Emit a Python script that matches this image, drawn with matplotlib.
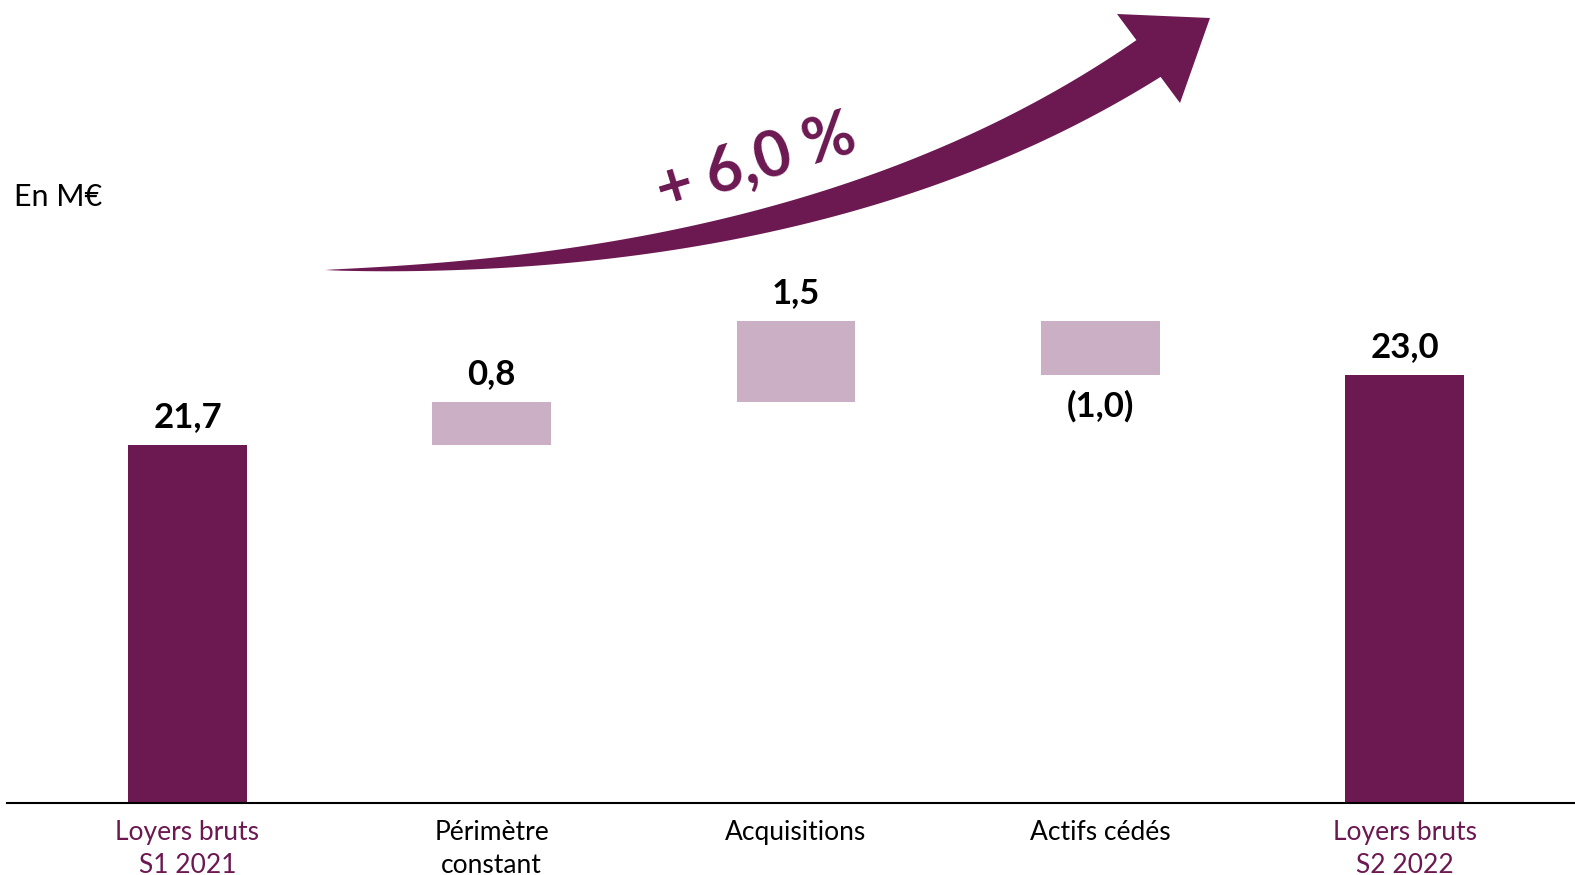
import numpy as np
import matplotlib
matplotlib.use("Agg")
import matplotlib.pyplot as plt
from matplotlib.patches import Polygon

plt.rcParams['font.family'] = ['Lato', 'DejaVu Sans']

# data
categories = ["Loyers bruts\nS1 2021", "Périmètre\nconstant", "Acquisitions",
              "Actifs cédés", "Loyers bruts\nS2 2022"]
values = [21.7, 0.8, 1.5, -1.0, 23.0]
is_total = [True, False, False, False, True]
value_labels = ["21,7", "0,8", "1,5", "(1,0)", "23,0"]
growth_label = "+ 6,0 %"
unit_label = "En M€"

dark = "#6C1952"
light = "#CBB0C5"

W, H = 1575, 875
fig = plt.figure(figsize=(W / 100, H / 100), dpi=100)
ax = fig.add_axes([7 / W, 72 / H, (W - 7) / W, 803 / H])

x = np.arange(len(values))
running = 0.0
for i, (v, tot) in enumerate(zip(values, is_total)):
    if tot:
        bottom, height = 0.0, v
        running = v
        color = dark
    else:
        bottom, height = running, v
        running += v
        color = light
    ax.bar(x[i], height, bottom=bottom, width=0.39, color=color, zorder=2)
    top = max(bottom, bottom + height)
    low = min(bottom, bottom + height)
    if v >= 0 or tot:
        ax.annotate(value_labels[i], (x[i], top), xytext=(0, 13),
                    textcoords="offset points", ha="center", va="baseline",
                    fontsize=25, fontweight="bold", color="black")
    else:
        ax.annotate(value_labels[i], (x[i], low), xytext=(0, -30),
                    textcoords="offset points", ha="center", va="baseline",
                    fontsize=25, fontweight="bold", color="black")

ax.set_xlim(-0.593, 4.56)
ax.set_ylim(15.1, 15.1 + 803 / 54.2)
ax.set_xticks(x)
ax.set_xticklabels(categories, fontsize=19, linespacing=1.4)
for lbl, tot in zip(ax.get_xticklabels(), is_total):
    lbl.set_color(dark if tot else "black")
ax.tick_params(axis="x", length=0, pad=12)
ax.set_yticks([])
for s in ["top", "left", "right"]:
    ax.spines[s].set_visible(False)
ax.spines["bottom"].set_linewidth(1.5)
ax.spines["bottom"].set_color("black")

# curved growth arrow (pixel coords, y from top)
p0 = np.array([325.0, 270.0])
tip = np.array([1210.0, 18.0])
c1 = np.array([1117.0, 14.0])
c2 = np.array([1180.0, 103.0])
mid = (c1 + c2) / 2
d = (tip - mid) / np.linalg.norm(tip - mid)
p2 = mid
p1 = p2 - 380 * d
t = np.linspace(0, 1, 120)
pts = ((1 - t) ** 2)[:, None] * p0 + (2 * (1 - t) * t)[:, None] * p1 + (t ** 2)[:, None] * p2
tang = (2 * (1 - t))[:, None] * (p1 - p0) + (2 * t)[:, None] * (p2 - p1)
tang /= np.linalg.norm(tang, axis=1)[:, None]
nrm = np.column_stack([-tang[:, 1], tang[:, 0]])
hw = 22 * t ** 0.8
upper = pts - nrm * hw[:, None]
lower = pts + nrm * hw[:, None]
poly = np.vstack([upper, c1[None], tip[None], c2[None], lower[::-1]])
poly_fig = np.column_stack([poly[:, 0] / W, 1 - poly[:, 1] / H])
fig.add_artist(Polygon(poly_fig, closed=True, transform=fig.transFigure,
                       facecolor=dark, edgecolor="none"))

fig.text(756 / W, 1 - 163 / H, growth_label, rotation=17, rotation_mode="anchor",
         ha="center", va="center", fontsize=45, fontweight="bold", color=dark)
fig.text(14 / W, 1 - 197 / H, unit_label, ha="left", va="center",
         fontsize=22, color="black")

fig.savefig("out.png", dpi=100)
